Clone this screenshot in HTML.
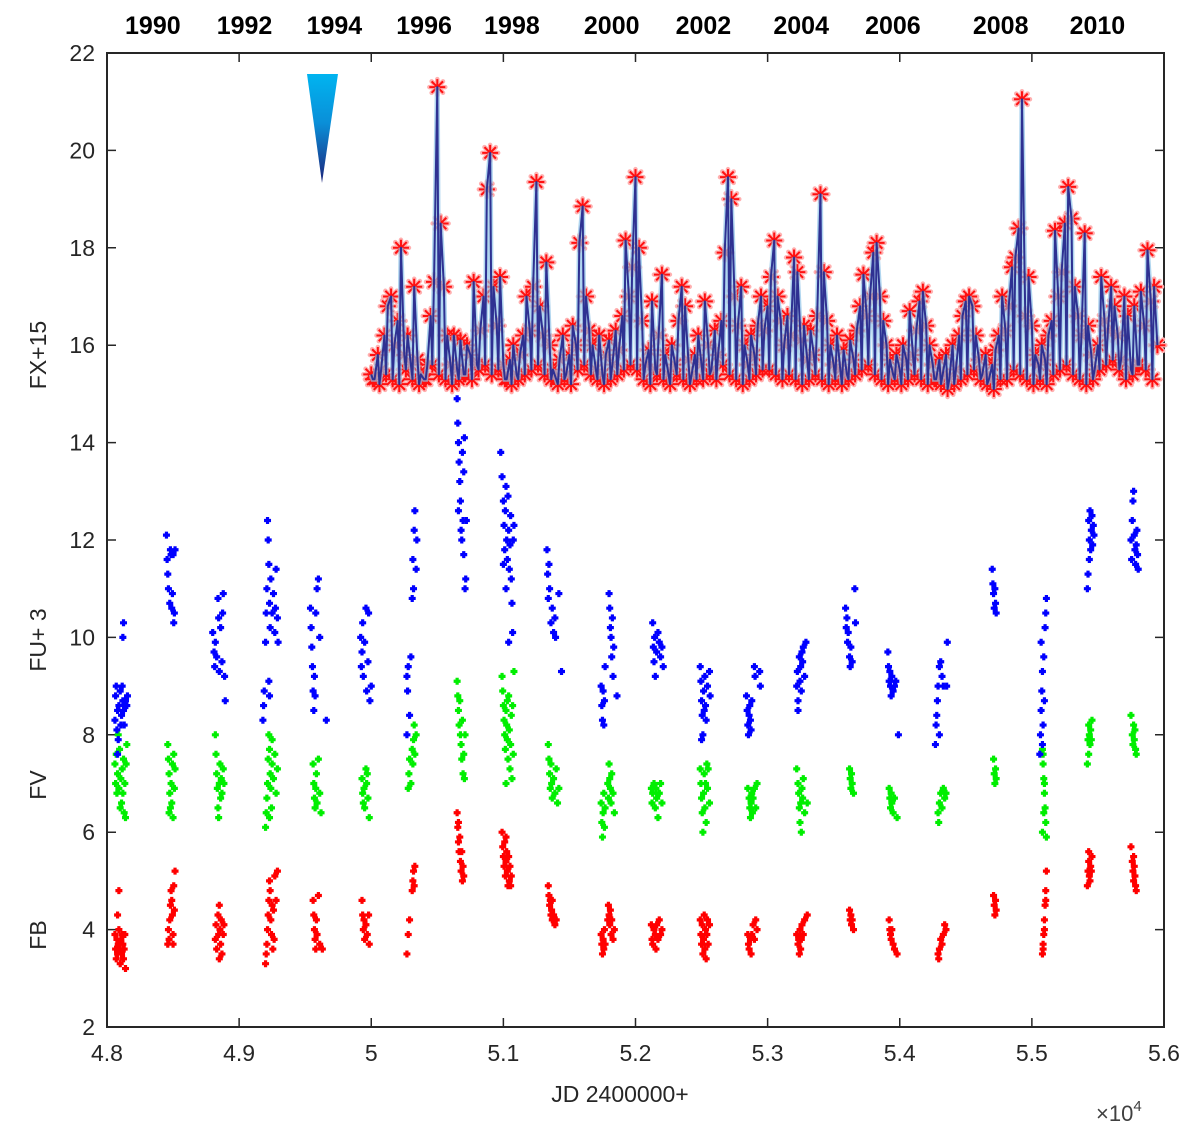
<!DOCTYPE html>
<html><head><meta charset="utf-8">
<style>
html,body{margin:0;padding:0;background:#fff;}
svg{display:block;font-family:"Liberation Sans",Arial,sans-serif;}
</style></head>
<body>
<svg id="chart" width="1200" height="1141" viewBox="0 0 1200 1141" xmlns="http://www.w3.org/2000/svg">
<defs>
<linearGradient id="coneGrad" x1="0" y1="0" x2="0" y2="1">
<stop offset="0" stop-color="#00b4f0"/><stop offset="0.45" stop-color="#0a8fd8"/><stop offset="1" stop-color="#1c237a"/>
</linearGradient>
</defs>
<g id="axes"></g>
<g id="marks"></g>
<polygon points="307,74 338,74 322,183" fill="url(#coneGrad)"/>
<text x="620" y="1102" font-size="23" fill="#262626" text-anchor="middle">JD 2400000+</text>
<text x="1096" y="1121" font-size="22" fill="#404040">×10<tspan font-size="15" dy="-10">4</tspan></text>
<text transform="translate(46,355) rotate(-90)" font-size="23" fill="#262626" text-anchor="middle">FX+15</text>
<text transform="translate(46,640) rotate(-90)" font-size="23" fill="#262626" text-anchor="middle">FU+ 3</text>
<text transform="translate(46,785) rotate(-90)" font-size="23" fill="#262626" text-anchor="middle">FV</text>
<text transform="translate(46,935) rotate(-90)" font-size="23" fill="#262626" text-anchor="middle">FB</text>
</svg>
<script>
const xTicks = [48000,49000,50000,51000,52000,53000,54000,55000,56000];
const xTickLabels = ["4.8","4.9","5","5.1","5.2","5.3","5.4","5.5","5.6"];
const yTicks = [2,4,6,8,10,12,14,16,18,20,22];
const yearLabels = ["1990","1992","1994","1996","1998","2000","2002","2004","2006","2008","2010"];
const yearLabelJD = [48347,49041,49721,50400,51065,51820,52514,53254,53948,54764,55496];

const fxStart = 50000;
const fxStep = 25;
const fxVals = [
15.4,15.3,15.8,15.5,16.2,16.8,17.0,16.0,16.5,18.0,15.8,16.2,15.6,17.2,15.7,15.4,15.3,15.6,16.6,17.3,21.3,18.5,17.2,16.2,15.6,16.2,15.5,16.1,15.4,16.0,15.8,17.3,15.6,16.3,17.0,19.2,19.95,17.2,16.4,17.4,
15.6,15.3,15.7,16.0,15.4,15.8,16.2,17.0,16.3,17.2,19.35,16.8,16.2,17.7,16.0,15.5,15.3,15.7,16.2,15.4,15.8,16.4,16.0,18.1,18.85,17.0,16.3,16.0,15.5,16.2,15.4,15.8,16.1,15.6,16.3,15.9,16.6,18.15,17.0,17.6,
19.45,18.0,16.5,15.6,15.9,16.9,15.5,16.2,17.45,15.8,15.4,16.0,15.6,16.5,17.2,16.8,15.7,15.4,15.8,16.2,15.6,16.9,16.0,15.5,16.3,15.8,16.5,17.9,19.45,19.0,17.0,16.4,17.2,16.0,15.6,16.2,15.8,16.4,17.0,16.3,
16.8,17.4,18.15,17.0,16.5,16.0,16.6,16.2,17.8,17.5,16.1,16.4,15.7,16.3,15.8,16.6,19.1,17.5,16.5,16.0,15.6,16.2,15.5,15.9,15.4,16.1,15.7,16.3,16.8,17.45,16.6,17.0,17.9,18.1,17.0,16.5,16.0,15.7,15.4,15.8,
15.5,16.0,15.7,16.7,15.8,16.3,16.9,17.1,16.4,16.0,15.6,15.3,15.7,15.4,15.8,15.3,16.0,15.5,16.2,16.6,16.9,17.0,16.8,16.2,15.7,15.4,15.8,15.3,15.6,15.9,16.2,17.0,16.3,16.8,17.6,17.8,18.4,21.05,16.6,17.4,
16.4,15.8,15.6,16.0,15.7,16.2,16.5,18.35,17.0,17.5,18.5,19.25,18.6,17.2,16.6,16.2,18.3,16.4,15.8,15.5,16.0,17.4,16.5,16.3,17.2,16.8,16.2,15.7,17.0,16.6,15.5,16.8,15.6,17.1,16.4,17.95,16.9,17.2,16.0];
const fxBaseStart = 50012;
const fxBaseStep = 50;
const fxBase = [
15.3,15.2,15.4,15.3,15.2,15.5,15.3,15.2,15.3,15.6,15.4,15.3,15.2,15.3,15.4,15.3,15.5,15.6,15.4,15.5,
15.3,15.2,15.3,15.4,15.5,15.6,15.4,15.3,15.2,15.3,15.2,15.5,15.6,15.4,15.3,15.2,15.3,15.4,15.5,15.6,
15.5,15.3,15.2,15.4,15.3,15.2,15.4,15.3,15.2,15.3,15.3,15.4,15.3,15.6,15.4,15.3,15.2,15.3,15.4,15.5,
15.5,15.4,15.3,15.4,15.3,15.2,15.3,15.4,15.3,15.2,15.3,15.2,15.3,15.4,15.5,15.6,15.4,15.3,15.2,15.3,
15.2,15.3,15.4,15.3,15.2,15.3,15.2,15.1,15.2,15.3,15.4,15.5,15.3,15.2,15.1,15.3,15.3,15.5,15.4,15.3,
15.2,15.3,15.2,15.4,15.5,15.6,15.4,15.3,15.2,15.3,15.5,15.6,15.7,15.5,15.3,15.4,15.6,15.5,15.3];

const fuPts = [
[48060,8.3],[48065,8.8],[48070,9.0],[48075,8.1],[48080,8.5],[48085,7.9],[48090,8.6],[48100,8.9],[48105,8.2],[48110,8.4],[48115,9.0],[48120,8.7],[48125,8.5],[48130,8.2],[48135,8.6],[48140,8.7],[48120,10.0],[48125,10.3],[48150,8.6],[48155,8.8],[48080,7.6],
[48450,12.1],[48455,11.6],[48460,11.3],[48465,11.0],[48475,10.7],[48480,11.8],[48485,11.7],[48490,10.6],[48495,10.9],[48500,11.7],[48505,10.3],[48510,10.5],[48515,11.8],
[48800,10.1],[48810,9.7],[48815,9.4],[48820,9.9],[48830,9.6],[48840,10.8],[48845,10.4],[48850,9.3],[48860,10.2],[48870,9.5],[48875,10.5],[48880,10.9],[48895,8.7],[48890,9.2],
[49180,8.3],[49185,8.6],[49190,8.9],[49200,9.9],[49205,10.5],[49210,11.0],[49215,12.4],[49220,12.0],[49225,11.5],[49230,10.7],[49235,10.2],[49240,11.2],[49250,10.5],[49260,10.9],[49270,10.1],[49275,10.6],[49280,11.4],[49290,10.4],[49295,9.9],[49225,9.1],[49230,8.8],
[49540,10.6],[49545,10.2],[49550,9.8],[49555,9.4],[49560,8.9],[49565,8.5],[49570,9.2],[49575,8.8],[49580,10.5],[49590,11.0],[49600,11.2],[49610,10.0],[49660,8.3],
[49920,10.0],[49925,9.4],[49930,9.7],[49935,10.3],[49940,9.2],[49950,9.9],[49960,10.6],[49965,8.9],[49975,9.5],[49980,10.5],[49990,8.7],[50000,9.0],
[50270,9.2],[50275,8.9],[50280,9.4],[50300,9.6],[50310,10.8],[50315,11.6],[50320,11.0],[50325,12.2],[50330,12.6],[50340,11.4],[50345,12.0],[50270,8.0],[50290,8.4],
[50650,14.9],[50655,14.4],[50660,14.0],[50665,13.6],[50670,13.2],[50675,12.8],[50680,12.2],[50660,12.6],[50690,13.8],[50695,12.4],[50700,11.7],[50710,11.0],[50715,11.2],[50720,12.4],[50700,13.4],[50705,14.1],[50685,12.0],
[50980,13.8],[50990,13.3],[51000,12.8],[51005,12.3],[51010,11.8],[51015,12.6],[51020,13.1],[51025,12.0],[51030,11.6],[51035,12.9],[51040,12.2],[51045,11.4],[51050,11.9],[51055,12.5],[51060,11.2],[51065,10.7],[51070,10.1],[51040,9.9],[51075,12.0],[51080,12.3],[51000,11.5],[51020,11.0],
[51330,11.8],[51335,11.3],[51340,10.8],[51345,11.5],[51350,11.0],[51360,10.3],[51370,10.6],[51380,10.1],[51390,10.4],[51395,10.0],[51420,10.9],[51440,9.3],
[51740,9.0],[51745,8.6],[51750,8.3],[51755,8.9],[51760,8.2],[51765,8.7],[51770,9.4],[51800,10.9],[51805,10.6],[51810,10.2],[51815,10.0],[51820,9.6],[51825,10.4],[51830,9.2],[51835,9.8],[51860,8.8],
[52130,10.3],[52135,9.8],[52140,9.5],[52145,10.0],[52150,9.2],[52160,9.7],[52170,10.1],[52180,9.9],[52190,9.6],[52200,9.8],[52210,9.4],
[52490,9.4],[52495,9.1],[52500,8.7],[52505,8.4],[52510,8.0],[52515,8.9],[52520,8.5],[52525,9.2],[52530,8.6],[52535,8.3],[52545,9.0],[52560,9.3],[52565,8.8],[52500,7.9],
[52840,8.8],[52845,8.5],[52850,8.2],[52855,8.0],[52860,8.4],[52865,8.6],[52870,8.3],[52875,8.1],[52880,8.7],[52900,9.4],[52905,9.2],[52940,9.3],[52945,9.0],
[53220,9.0],[53225,9.3],[53230,8.7],[53240,9.6],[53245,9.1],[53250,9.4],[53255,8.9],[53260,9.7],[53265,9.5],[53270,9.8],[53280,9.2],[53290,9.9],[53230,8.5],
[53590,10.6],[53595,10.2],[53600,10.4],[53605,9.9],[53610,10.1],[53620,9.6],[53625,9.4],[53630,9.8],[53660,11.0],[53665,10.3],[53640,9.5],
[53910,9.7],[53915,9.4],[53920,9.1],[53925,9.3],[53930,9.0],[53935,8.8],[53940,9.2],[53950,8.9],[53960,9.0],[53970,9.1],[53990,8.0],
[54270,7.8],[54275,8.2],[54280,8.4],[54285,8.7],[54290,9.0],[54300,9.4],[54310,9.5],[54320,9.2],[54330,9.0],[54360,9.9],[54355,9.0],[54300,8.0],
[54700,11.4],[54705,11.1],[54710,10.9],[54715,10.6],[54720,11.0],[54725,10.7],[54730,10.5],
[55060,7.6],[55065,8.0],[55070,8.5],[55075,8.9],[55080,9.3],[55085,8.2],[55090,9.6],[55095,8.7],[55100,10.2],[55105,10.5],[55110,10.8],[55080,7.8],[55070,9.9],
[55420,11.0],[55425,11.3],[55430,12.4],[55435,12.0],[55440,12.6],[55445,11.8],[55450,12.2],[55455,12.5],[55460,11.9],[55465,12.3],[55470,12.1],[55435,11.6],
[55750,12.0],[55755,11.6],[55760,12.4],[55765,12.8],[55770,13.0],[55775,12.1],[55780,11.8],[55785,11.5],[55790,11.9],[55795,12.2],[55800,11.7],[55805,11.4]];

const fvPts = [
[48060,7.4],[48065,7.0],[48070,7.6],[48075,6.8],[48080,7.2],[48090,6.9],[48095,7.7],[48100,6.5],[48105,7.1],[48110,6.6],[48115,7.3],[48120,6.8],[48125,7.5],[48130,6.4],[48135,7.0],[48140,6.3],[48145,7.4],[48150,7.8],[48085,8.0],
[48460,7.8],[48465,7.5],[48470,7.2],[48475,6.8],[48480,6.5],[48485,7.0],[48490,6.6],[48495,7.4],[48500,6.3],[48505,7.6],[48510,6.9],[48515,7.3],[48470,6.4],
[48820,8.0],[48825,7.6],[48830,7.2],[48835,6.9],[48840,6.5],[48845,6.3],[48850,7.0],[48855,7.4],[48860,6.7],[48865,7.1],[48870,6.8],[48880,7.3],[48885,7.0],
[49200,6.1],[49205,6.4],[49210,6.7],[49215,7.0],[49220,7.5],[49225,8.0],[49230,7.7],[49235,7.2],[49240,6.9],[49245,6.5],[49250,7.4],[49260,7.1],[49270,7.6],[49280,6.8],[49290,7.3],[49230,6.3],[49250,7.9],
[49560,7.4],[49565,7.0],[49570,6.7],[49575,6.5],[49580,6.9],[49585,7.2],[49590,6.6],[49600,7.5],[49610,6.8],[49620,6.4],
[49930,7.1],[49935,6.8],[49940,6.6],[49945,6.9],[49950,6.5],[49960,7.3],[49965,7.0],[49975,6.7],[49985,6.3],[49970,7.2],
[50280,6.9],[50285,7.2],[50290,7.5],[50300,7.0],[50310,7.7],[50315,7.4],[50320,7.9],[50325,8.2],[50330,7.6],[50340,8.0],
[50650,9.1],[50655,8.8],[50660,8.5],[50665,8.2],[50670,8.7],[50675,8.0],[50680,7.8],[50685,7.5],[50690,8.3],[50695,7.2],[50700,7.6],[50705,7.1],[50710,8.0],
[50990,9.2],[50995,8.9],[51000,8.6],[51005,8.3],[51010,8.0],[51015,7.7],[51020,8.5],[51025,8.2],[51030,7.9],[51035,7.5],[51040,8.8],[51045,8.1],[51050,7.3],[51055,7.8],[51060,8.4],[51065,7.1],[51070,8.6],[51075,7.6],[51080,9.3],[51030,8.7],[51020,7.0],
[51340,7.8],[51345,7.5],[51350,7.2],[51355,6.9],[51360,7.4],[51365,7.0],[51370,6.7],[51380,7.1],[51390,6.8],[51400,7.3],[51410,6.6],[51420,6.9],
[51740,6.6],[51745,6.2],[51750,5.9],[51755,6.4],[51760,6.8],[51765,6.1],[51770,6.5],[51790,7.0],[51795,6.7],[51800,7.4],[51805,7.1],[51810,6.9],[51815,6.6],[51820,7.2],[51830,6.8],[51840,6.4],
[52120,6.9],[52125,6.6],[52130,6.8],[52140,7.0],[52150,6.5],[52155,6.9],[52160,6.7],[52170,6.3],[52180,6.8],[52190,7.0],[52200,6.6],
[52490,7.3],[52495,7.0],[52500,6.7],[52505,6.4],[52510,6.0],[52515,6.8],[52520,7.2],[52525,6.5],[52530,7.0],[52535,6.2],[52540,7.4],[52545,6.9],[52550,7.3],[52560,6.6],
[52850,6.9],[52860,6.7],[52865,6.5],[52870,6.3],[52875,6.6],[52880,6.8],[52885,6.4],[52890,6.7],[52900,6.9],[52910,6.5],[52920,7.0],
[53220,7.3],[53230,7.0],[53235,6.8],[53240,6.5],[53245,6.2],[53250,6.6],[53255,6.0],[53260,6.9],[53265,6.7],[53270,7.1],[53280,6.4],[53300,6.6],
[53620,7.3],[53625,7.1],[53630,6.9],[53635,7.2],[53640,7.0],[53650,6.8],
[53920,6.9],[53925,6.7],[53930,6.5],[53935,6.8],[53940,6.6],[53950,6.4],[53960,6.7],[53980,6.3],
[54290,6.4],[54295,6.2],[54300,6.6],[54310,6.8],[54320,6.5],[54330,6.9],[54340,6.7],[54350,6.8],
[54710,7.5],[54715,7.2],[54720,7.0],[54725,7.3],[54730,7.1],
[55080,7.7],[55085,7.4],[55090,7.1],[55095,6.8],[55100,6.5],[55105,6.2],[55110,5.9],[55085,7.6],[55095,7.0],[55080,6.0],[55090,6.4],
[55420,7.4],[55425,7.9],[55430,8.2],[55435,8.0],[55440,7.8],[55445,8.1],[55450,7.9],[55455,8.3],[55430,7.6],
[55750,8.4],[55760,8.0],[55765,7.8],[55770,8.2],[55775,7.9],[55780,8.1],[55785,7.7],[55790,7.6]];

const fbPts = [
[48060,3.9],[48065,3.6],[48070,3.4],[48075,3.8],[48080,3.5],[48085,3.7],[48090,4.0],[48095,3.6],[48100,3.3],[48105,3.8],[48110,3.5],[48115,3.9],[48120,3.7],[48125,3.4],[48130,3.6],[48080,4.3],[48090,4.8],[48140,3.2],[48135,3.9],
[48460,3.7],[48465,4.0],[48470,3.8],[48475,4.2],[48480,4.5],[48485,4.8],[48490,4.6],[48495,4.3],[48500,3.9],[48505,4.9],[48510,4.4],[48515,5.2],[48500,3.7],
[48820,3.8],[48825,4.1],[48830,3.6],[48840,4.3],[48845,3.9],[48850,4.5],[48855,4.0],[48860,3.7],[48865,4.2],[48870,3.5],[48880,3.9],[48885,4.1],[48850,3.4],
[49200,3.3],[49205,3.5],[49210,3.7],[49215,4.0],[49220,4.3],[49225,4.6],[49230,5.0],[49235,4.8],[49240,4.2],[49245,3.9],[49250,4.5],[49255,3.6],[49260,4.4],[49270,5.1],[49280,4.6],[49290,5.2],[49265,3.8],
[49560,4.6],[49565,4.3],[49570,4.0],[49575,3.8],[49580,3.6],[49585,4.2],[49590,3.9],[49600,4.7],[49610,3.7],[49630,3.6],
[49930,4.6],[49935,4.3],[49940,4.0],[49945,4.2],[49950,3.8],[49960,4.1],[49970,3.9],[49980,4.3],[49985,3.7],
[50270,3.5],[50280,3.9],[50290,4.2],[50310,4.8],[50315,5.0],[50320,5.2],[50325,4.9],[50330,5.3],
[50650,6.4],[50655,6.1],[50660,5.8],[50665,5.6],[50670,5.9],[50675,5.4],[50680,5.2],[50685,5.6],[50690,5.0],[50695,5.3],[50700,5.1],[50660,6.2],
[50990,6.0],[50995,5.7],[51000,5.5],[51005,5.3],[51010,5.8],[51015,5.1],[51020,5.4],[51025,5.6],[51030,5.2],[51035,4.9],[51040,5.5],[51045,5.0],[51050,5.3],[51055,4.9],[51060,5.1],[51020,5.9],[51030,5.5],
[51340,4.9],[51345,4.7],[51350,4.5],[51355,4.6],[51360,4.3],[51365,4.4],[51370,4.2],[51380,4.3],[51390,4.1],[51400,4.2],[51370,4.6],
[51740,3.9],[51745,3.7],[51750,3.5],[51755,3.8],[51760,3.6],[51765,4.0],[51770,3.7],[51790,4.2],[51795,4.5],[51800,4.3],[51805,4.1],[51810,4.4],[51815,3.9],[51820,4.2],[51830,3.8],[51840,4.0],
[52120,4.1],[52125,3.8],[52130,3.7],[52140,4.0],[52150,3.9],[52155,3.6],[52160,4.1],[52170,3.8],[52180,4.2],[52190,3.9],[52200,4.0],
[52490,4.2],[52495,3.9],[52500,3.7],[52505,4.1],[52510,3.5],[52515,3.8],[52520,4.3],[52525,3.6],[52530,4.0],[52535,3.4],[52540,3.9],[52545,4.2],[52550,3.7],[52560,4.1],
[52850,3.9],[52855,3.7],[52860,3.6],[52870,3.8],[52875,3.5],[52880,3.9],[52890,4.1],[52900,3.8],[52910,4.2],[52920,4.0],
[53220,3.9],[53230,3.7],[53235,3.8],[53240,3.5],[53245,4.0],[53250,3.6],[53255,3.8],[53260,4.1],[53270,3.9],[53280,4.2],[53300,4.3],
[53620,4.4],[53625,4.2],[53630,4.3],[53635,4.1],[53640,4.2],[53650,4.0],
[53920,4.2],[53925,4.0],[53930,3.9],[53935,3.8],[53940,4.0],[53950,3.7],[53960,3.6],[53980,3.5],
[54290,3.5],[54295,3.4],[54300,3.6],[54310,3.8],[54320,3.7],[54330,3.9],[54340,4.1],[54350,4.0],
[54710,4.7],[54715,4.5],[54720,4.3],[54725,4.6],[54730,4.4],
[55080,3.5],[55085,3.7],[55090,3.9],[55095,4.2],[55100,4.5],[55105,4.8],[55110,5.2],[55085,3.6],[55095,4.0],[55105,4.6],
[55420,4.9],[55425,5.2],[55430,5.4],[55435,5.1],[55440,5.0],[55445,5.3],[55450,5.2],[55455,5.5],[55430,5.6],
[55750,5.7],[55760,5.4],[55765,5.2],[55770,5.0],[55775,5.3],[55780,5.1],[55785,4.9],[55790,4.8],[55770,5.5]];

const NS = "http://www.w3.org/2000/svg";
const L = 107, R = 1164, T = 53, B = 1027;
const xMin = 48000, xMax = 56000, yMin = 2, yMax = 22;
function xs(v){ return L + (v - xMin) / (xMax - xMin) * (R - L); }
function ys(v){ return B - (v - yMin) / (yMax - yMin) * (B - T); }
function mk(tag, attrs, parent){
  const e = document.createElementNS(NS, tag);
  for (const k in attrs) e.setAttribute(k, attrs[k]);
  parent.appendChild(e);
  return e;
}
const axes = document.getElementById('axes');
const marks = document.getElementById('marks');

const box = mk('rect', {x:L, y:T, width:R-L, height:B-T, fill:'none', stroke:'#262626', 'stroke-width':2}, axes);



xTicks.forEach((t, i) => {
  const x = xs(t);
  const tb = mk('path', {d:`M${x},${B}v-9M${x},${T}v9`, stroke:'#262626', 'stroke-width':1.5}, axes);
  
  
  const lb = mk('text', {x:x, y:B+34, 'font-size':23, fill:'#262626', 'text-anchor':'middle'}, axes);
  lb.textContent = xTickLabels[i];
  
  
});
yTicks.forEach(t => {
  const y = ys(t);
  const tk = mk('path', {d:`M${L},${y}h9M${R},${y}h-9`, stroke:'#262626', 'stroke-width':1.5}, axes);
  
  
  const lb = mk('text', {x:L-12, y:y+8, 'font-size':23, fill:'#262626', 'text-anchor':'end'}, axes);
  lb.textContent = String(t);
  
  
});
yearLabels.forEach((yr, i) => {
  const lb = mk('text', {x:xs(yearLabelJD[i]), y:34, 'font-size':25, 'font-weight':'bold', fill:'#000', 'text-anchor':'middle'}, axes);
  lb.textContent = yr;
  
  
});

function plus(pts, color, name){
  const g = mk('g', {stroke:color, 'stroke-width':3.2}, marks);
  
  
  let d = '';
  pts.forEach(p => { const x = xs(p[0]), y = ys(p[1]); d += `M${x-3.5},${y}h7M${x},${y-3.5}v7`; });
  const pe = mk('path', {d:d, fill:'none'}, g);
  
  
}
plus(fbPts, '#ff0000', 'fb-series');
plus(fvPts, '#00ee00', 'fv-series');
plus(fuPts, '#0000ff', 'fu-series');

const fx = [];
fxVals.forEach((v, i) => fx.push([fxStart + fxStep * i, v]));
fxBase.forEach((v, i) => fx.push([fxBaseStart + fxBaseStep * i, v]));
fx.sort((a, b) => a[0] - b[0]);

const fxG = mk('g', {}, marks);


let md = '';
fx.forEach(p => {
  const x = xs(p[0]), y = ys(p[1]), r = 8, q = 5.7;
  md += `M${x-r},${y}h${2*r}M${x},${y-r}v${2*r}M${x-q},${y-q}l${2*q},${2*q}M${x-q},${y+q}l${2*q},${-2*q}`;
});
const mh = mk('path', {d:md, stroke:'#ffb0b0', 'stroke-width':4.5, fill:'none', 'stroke-linecap':'round'}, fxG);


const mm = mk('path', {d:md, stroke:'#ff1010', 'stroke-width':2, fill:'none'}, fxG);


const ld = fx.map((p, i) => (i ? 'L' : 'M') + xs(p[0]) + ',' + ys(p[1])).join('');
const lg = mk('path', {d:ld, stroke:'#8fc3e8', 'stroke-width':5, fill:'none', opacity:0.7}, fxG);


const ln = mk('path', {d:ld, stroke:'#2e3192', 'stroke-width':2, fill:'none', 'stroke-linejoin':'round'}, fxG);


</script>
</body></html>
